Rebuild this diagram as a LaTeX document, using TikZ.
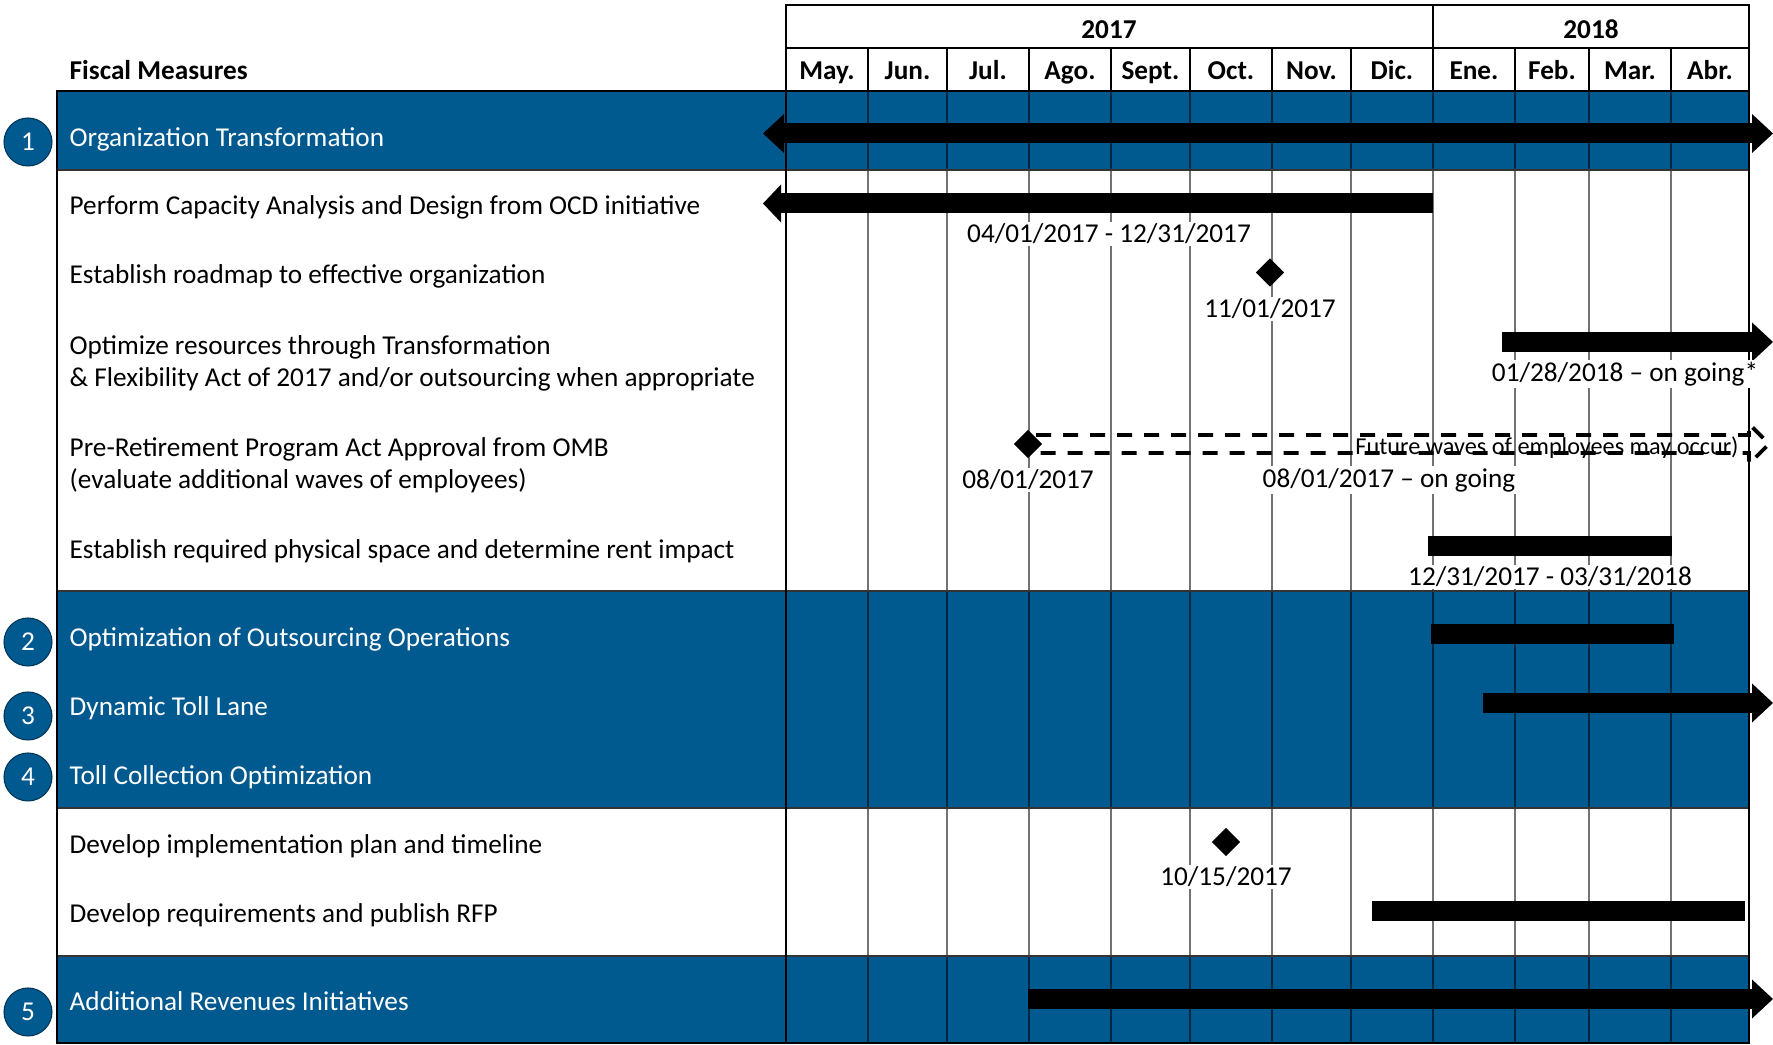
\documentclass[tikz,border=0pt]{standalone}
\usepackage{fontspec}
\setmainfont{Carlito}
\usetikzlibrary{arrows.meta,shapes.geometric}
\definecolor{bandblue}{RGB}{0,89,143}

\tikzset{
  every node/.style={font=\fontsize{7.75}{9}\selectfont},
  head/.style={font=\fontsize{7.75}{9}\selectfont\bfseries, anchor=base},
  task/.style={anchor=base west, inner sep=0pt, align=left},
  task2/.style={anchor=west, inner sep=0pt, align=left},
  band/.style={task, text=white},
  num/.style={circle, fill=bandblue, draw=bandblue!60!black, line width=0.3pt,
    minimum size=4.8mm, inner sep=0pt, text=white},
  datelbl/.style={fill=white, inner sep=0.6pt},
  milestone/.style={diamond, fill=black, minimum size=2.9mm, inner sep=0pt},
  gridline/.style={black, opacity=0.55, line width=0.35pt},
  bar/.style={line width=2mm},
  tip/.style={-{Triangle[length=2.1mm, width=3.9mm, line width=0pt]}},
  bothtips/.style={{Triangle[length=2.1mm, width=3.9mm, line width=0pt]}-{Triangle[length=2.1mm, width=3.9mm, line width=0pt]}},
}

\begin{document}
\begin{tikzpicture}[x=0.1mm, y=-0.1mm]
  \useasboundingbox (0,0) rectangle (1773,1045);

  % blue bands
  \fill[bandblue] (57,91) rectangle (1749,170);
  \fill[bandblue] (57,591) rectangle (1749,808);
  \fill[bandblue] (57,956) rectangle (1749,1043);

  % month columns
  \foreach \x in {868,947,1029,1111,1190,1272,1351,1433,1515,1589,1671} {
    \draw[gridline] (\x,91) -- (\x,1043);
    \draw[line width=0.6pt] (\x,48) -- (\x,91);
  }
  \draw[black!80, line width=0.4pt] (57,170) -- (1749,170) (57,591) -- (1749,591)
    (57,808) -- (1749,808) (57,956) -- (1749,956);
  \draw[line width=0.7pt] (57,91) -- (1749,91) -- (1749,1043) -- (57,1043) -- cycle;
  \draw[line width=0.7pt] (786,91) -- (786,1043);
  \draw[line width=0.7pt] (786,5) rectangle (1749,91) (786,48) -- (1749,48)
    (1433,5) -- (1433,48);

  % header
  \node[head] (y17) at (1109,38.5) {2017};
  \node[head] (y18) at (1591,38.5) {2018};
  \node[head, anchor=base west, inner sep=0pt] (fm) at (69,80) {Fiscal Measures};
  \foreach \a/\b/\m [count=\k] in {786/868/May., 868/947/Jun., 947/1029/Jul.,
      1029/1111/Ago., 1111/1190/Sept., 1190/1272/Oct., 1272/1351/Nov.,
      1351/1433/Dic., 1433/1515/Ene., 1515/1589/Feb., 1589/1671/Mar., 1671/1749/Abr.}
    \node[head] (mon\k) at ({(\a+\b)/2},80) {\m};

  % measures
  \node[num] (n1) at (28,142) {1};
  \node[num] (n2) at (28,642) {2};
  \node[num] (n3) at (28,716) {3};
  \node[num] (n4) at (28,777) {4};
  \node[num] (n5) at (28,1012) {5};
  \node[band] (t1) at (69,147) {Organization Transformation};
  \node[task] (t11) at (69,215) {Perform Capacity Analysis and Design from OCD initiative};
  \node[task] (t12) at (69,284) {Establish roadmap to effective organization};
  \node[task2] (t13) at (69,363.5) {Optimize resources through Transformation\\
    \& Flexibility Act of 2017 and/or outsourcing when appropriate};
  \node[task2] (t14) at (69,465.5) {Pre-Retirement Program Act Approval from OMB\\
    (evaluate additional waves of employees)};
  \node[task] (t15) at (69,559) {Establish required physical space and determine rent impact};
  \node[band] (t2) at (69,647) {Optimization of Outsourcing Operations};
  \node[band] (t3) at (69,716) {Dynamic Toll Lane};
  \node[band] (t4) at (69,785) {Toll Collection Optimization};
  \node[task] (t41) at (69,854) {Develop implementation plan and timeline};
  \node[task] (t42) at (69,923) {Develop requirements and publish RFP};
  \node[band] (t5) at (69,1011) {Additional Revenues Initiatives};

  % bars and milestones
  \draw[bar, bothtips] (763,133.5) -- (1773,133.5);
  \draw[bar, {Triangle[length=1.8mm, width=3.8mm, line width=0pt]}-] (763,203.5) -- (1433,203.5);
  \node[datelbl] (d11) at (1109,234) {04/01/2017 - 12/31/2017};
  \node[milestone] (ms12) at (1270,272.5) {};
  \node[datelbl] (d12) at (1270,309) {11/01/2017};
  \draw[bar, tip] (1502,342) -- (1773,342);
  \node[datelbl] (d13) at (1625,374) {01/28/2018 -- on going*};
  \node[font=\fontsize{6.9}{8}\selectfont] (fw) at (1547,448) {Future waves of employees may occur)};
  \draw[line width=1.1pt, dash pattern=on 1.5mm off 1.2mm]
    (1036,435) -- (1749,435) -- (1749,424) -- (1769,444) -- (1749,464) -- (1749,453) -- (1040,453);
  \node[milestone] (ms14) at (1028,444) {};
  \node[datelbl] (d14a) at (1028,480) {08/01/2017};
  \node[datelbl] (d14b) at (1389,480) {08/01/2017 -- on going};
  \draw[bar] (1428,546) -- (1672,546);
  \node[datelbl] (d15) at (1550,577) {12/31/2017 - 03/31/2018};
  \draw[bar] (1431,634) -- (1674,634);
  \draw[bar, tip] (1483,703) -- (1773,703);
  \node[milestone] (ms41) at (1226,842) {};
  \node[datelbl] (d41) at (1226,877) {10/15/2017};
  \draw[bar] (1372,911) -- (1745,911);
  \draw[bar, tip] (1028,999) -- (1773,999);
\end{tikzpicture}
\end{document}
